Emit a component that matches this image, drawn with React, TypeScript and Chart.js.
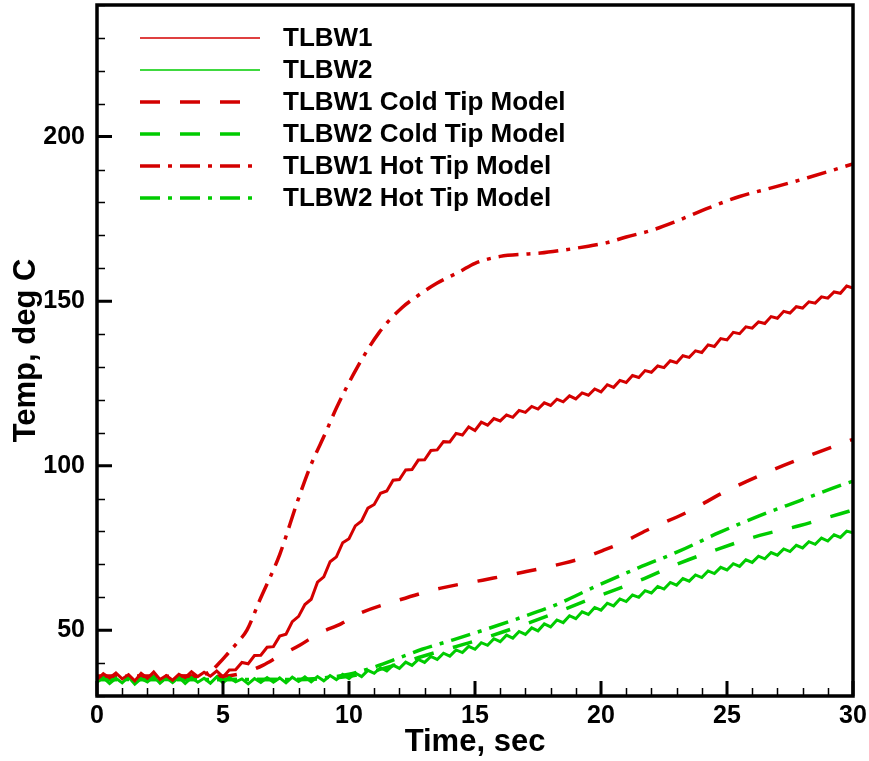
import React, { useEffect, useRef } from 'react';
import { Chart, registerables } from 'chart.js';

Chart.register(...registerables);

// ---------------- DATA ----------------
const sampleStep = 0.25; // seconds between measured samples (t = 0 .. 30)

const tlbw1Values = [
  35.0, 36.8, 35.5, 37.0, 35.2, 36.5, 34.6, 36.9, 35.4, 37.3,
  35.0, 36.2, 34.8, 36.6, 35.6, 37.4, 35.9, 37.2, 36.0, 37.6,
  35.8, 37.9, 38.0, 40.2, 39.8, 42.3, 42.4, 44.8, 45.0, 48.2,
  48.8, 52.6, 54.2, 57.8, 59.4, 64.6, 66.2, 70.8, 72.3, 76.6,
  77.8, 81.7, 83.2, 87.1, 88.2, 91.6, 92.3, 95.6, 95.8, 98.7,
  98.8, 101.7, 101.8, 104.6, 104.8, 107.3, 107.2, 109.8, 109.3, 111.8,
  110.7, 113.2, 112.3, 114.3, 113.6, 115.4, 114.7, 116.8, 116.2, 118.0,
  117.2, 119.1, 118.3, 120.2, 119.4, 121.2, 120.3, 122.1, 121.4, 123.3,
  122.4, 124.6, 123.8, 125.9, 125.3, 127.4, 126.8, 128.9, 128.4, 130.3,
  129.8, 131.9, 131.3, 133.4, 132.9, 134.9, 134.4, 136.7, 136.2, 138.6,
  138.2, 140.5, 140.1, 142.2, 141.8, 143.7, 143.2, 145.3, 144.8, 146.9,
  146.4, 148.3, 147.9, 149.8, 149.4, 151.3, 150.9, 152.8, 152.4, 154.6,
  154.0,
];

const tlbw2Values = [
  34.2, 35.6, 33.8, 35.4, 34.0, 35.8, 33.6, 35.3, 34.3, 35.9,
  33.9, 35.5, 34.1, 35.7, 33.8, 35.6, 34.2, 35.4, 33.9, 35.8,
  34.0, 35.6, 34.3, 35.2, 33.7, 35.3, 34.1, 35.6, 34.2, 35.5,
  34.0, 35.7, 34.4, 35.8, 34.3, 35.9, 34.6, 36.2, 35.0, 36.6,
  35.3, 37.0, 35.9, 37.8, 36.9, 38.6, 37.6, 39.4, 38.4, 40.3,
  39.3, 41.1, 40.2, 42.0, 41.1, 43.0, 42.1, 44.0, 43.2, 45.1,
  44.2, 46.2, 45.4, 47.4, 46.5, 48.5, 47.6, 49.6, 48.7, 50.7,
  49.8, 51.9, 51.0, 53.1, 52.3, 54.4, 53.5, 55.6, 54.8, 56.9,
  56.1, 58.2, 57.4, 59.5, 58.7, 60.7, 60.0, 62.0, 61.3, 63.3,
  62.5, 64.5, 63.7, 65.7, 64.9, 66.8, 66.0, 68.0, 67.2, 69.1,
  68.3, 70.2, 69.4, 71.4, 70.6, 72.5, 71.7, 73.6, 72.8, 74.7,
  73.9, 75.8, 75.0, 76.9, 76.1, 78.0, 77.1, 79.0, 78.2, 80.1,
  79.6,
];

const coldTip1Time = [0, 5, 6, 6.6, 7.2, 8.06, 8.8, 9.7, 10.4, 12, 13.6, 15.3, 16.9, 18.5, 19.3, 20.1, 21, 21.8, 23.4, 25, 26.6, 28.3, 30];
const coldTip1Temp = [36, 36, 37.5, 39.4, 42, 45.5, 49, 52, 55, 59.2, 62.7, 65.2, 67.6, 70.3, 72, 74.3, 77.2, 80.3, 85.8, 92.4, 98, 103.2, 108];

const coldTip2Time = [0, 8, 9, 10, 11, 12, 12.9, 14.9, 16.5, 18.1, 19.7, 21.5, 23.1, 24.7, 26.3, 27.9, 29.5, 30];
const coldTip2Temp = [35, 35, 35.3, 36, 37.6, 39.8, 42, 46.5, 50.5, 55, 59.8, 65, 70.3, 74.8, 78.8, 81.8, 85.4, 86.5];

const hotTip1Time = [0, 2, 4, 4.5, 4.85, 5.2, 5.6, 5.95, 6.45, 7.25, 7.95, 8.45, 9.1, 9.5, 10.3, 11.2, 12.1, 12.7, 13.5, 14.4, 15, 16, 17, 17.6, 18.5, 19.5, 20.2, 21, 22, 22.9, 24, 25.5, 26.8, 28.2, 30];
const hotTip1Temp = [36, 36, 36.2, 37.5, 40, 43, 46.5, 50, 59, 73, 89, 99.5, 110.5, 117.5, 129.5, 140.5, 148, 151.5, 155.5, 159, 161.5, 163.6, 164.3, 164.6, 165.5, 166.7, 167.7, 169.5, 171.5, 174, 177.5, 181.8, 184.5, 187.5, 191.7];

const hotTip2Time = [0, 8, 9, 10, 11, 12, 12.9, 14.1, 16.5, 18.3, 19.7, 21.5, 23.1, 24.7, 26.3, 27.9, 29.5, 30];
const hotTip2Temp = [35, 35, 35.5, 36.6, 38.8, 41.6, 44.2, 47, 53, 58, 63, 69, 74, 79.7, 84.8, 89.4, 94, 95.3];

const seriesNames = [
  'TLBW1',
  'TLBW2',
  'TLBW1 Cold Tip Model',
  'TLBW2 Cold Tip Model',
  'TLBW1 Hot Tip Model',
  'TLBW2 Hot Tip Model',
];

const xTickValues = [0, 5, 10, 15, 20, 25, 30];
const yTickValues = [50, 100, 150, 200];
const xRange = [0, 30];
const yRange = [30, 240];
const xMinorStep = 1;
const yMinorStep = 10;

// ---------------- STYLE ----------------
const RED = 'rgb(212,0,0)';
const GREEN = 'rgb(0,204,0)';
const FONT = '"Liberation Sans", Arial, Helvetica, sans-serif';
const DASH = [20, 20];
const DASHDOT = [20, 8, 4, 8];

const toPoints = (xs: number[], ys: number[]) => ys.map((y, i) => ({ x: xs[i], y }));
const measuredPoints = (ys: number[]) => ys.map((y, i) => ({ x: i * sampleStep, y }));

const legendStyles = [
  { color: RED, dash: [] as number[], width: 1.5 },
  { color: GREEN, dash: [] as number[], width: 1.5 },
  { color: RED, dash: DASH, width: 3.5 },
  { color: GREEN, dash: DASH, width: 3.5 },
  { color: RED, dash: DASHDOT, width: 3.5 },
  { color: GREEN, dash: DASHDOT, width: 3.5 },
];

const decorPlugin = {
  id: 'decor',
  afterDraw(chart: any) {
    const { ctx, chartArea: a, scales } = chart;
    const x = scales.x;
    const y = scales.y;
    ctx.save();
    ctx.strokeStyle = '#000';
    ctx.lineCap = 'butt';
    ctx.setLineDash([]);

    // minor ticks
    ctx.lineWidth = 1.5;
    ctx.beginPath();
    for (let v = xRange[0]; v <= xRange[1]; v += xMinorStep) {
      if (xTickValues.includes(v)) continue;
      const px = Math.round(x.getPixelForValue(v)) + 0.5;
      ctx.moveTo(px, a.bottom);
      ctx.lineTo(px, a.bottom - 8);
    }
    for (let v = yRange[0]; v <= yRange[1]; v += yMinorStep) {
      if (yTickValues.includes(v)) continue;
      const py = Math.round(y.getPixelForValue(v)) + 0.5;
      ctx.moveTo(a.left, py);
      ctx.lineTo(a.left + 8, py);
    }
    ctx.stroke();

    // major ticks
    ctx.lineWidth = 3;
    ctx.beginPath();
    for (const v of xTickValues) {
      const px = x.getPixelForValue(v);
      ctx.moveTo(px, a.bottom);
      ctx.lineTo(px, a.bottom - 15);
    }
    for (const v of yTickValues) {
      const py = y.getPixelForValue(v);
      ctx.moveTo(a.left, py);
      ctx.lineTo(a.left + 15, py);
    }
    ctx.stroke();

    // frame
    ctx.lineWidth = 3.5;
    ctx.strokeRect(a.left, a.top, a.right - a.left, a.bottom - a.top);

    // legend
    const lx0 = 140;
    const lx1 = 260;
    const tx = 283;
    const ly0 = 38;
    const dy = 32;
    ctx.font = `bold 26px ${FONT}`;
    ctx.fillStyle = '#000';
    ctx.textBaseline = 'middle';
    ctx.textAlign = 'left';
    seriesNames.forEach((name, i) => {
      const st = legendStyles[i];
      const yy = ly0 + i * dy;
      ctx.strokeStyle = st.color;
      ctx.lineWidth = st.width;
      ctx.setLineDash(st.dash);
      ctx.beginPath();
      ctx.moveTo(lx0, yy);
      ctx.lineTo(lx1, yy);
      ctx.stroke();
      ctx.setLineDash([]);
      ctx.fillText(name, tx, yy + 1);
    });
    ctx.restore();
  },
};

export default function App() {
  const canvasRef = useRef<HTMLCanvasElement | null>(null);

  useEffect(() => {
    const canvas = canvasRef.current;
    if (!canvas) return;
    const tickFont = { family: FONT, size: 25, weight: 'bold' as const };
    const titleFont = { family: FONT, size: 31, weight: 'bold' as const };

    const chart = new Chart(canvas, {
      type: 'line',
      data: {
        datasets: [
          {
            label: seriesNames[0],
            data: measuredPoints(tlbw1Values),
            borderColor: RED,
            borderWidth: 3,
            pointRadius: 0,
            tension: 0,
          },
          {
            label: seriesNames[1],
            data: measuredPoints(tlbw2Values),
            borderColor: GREEN,
            borderWidth: 3,
            pointRadius: 0,
            tension: 0,
          },
          {
            label: seriesNames[2],
            data: toPoints(coldTip1Time, coldTip1Temp),
            borderColor: RED,
            borderWidth: 3.5,
            borderDash: DASH,
            pointRadius: 0,
            cubicInterpolationMode: 'monotone',
          },
          {
            label: seriesNames[3],
            data: toPoints(coldTip2Time, coldTip2Temp),
            borderColor: GREEN,
            borderWidth: 3.5,
            borderDash: DASH,
            pointRadius: 0,
            cubicInterpolationMode: 'monotone',
          },
          {
            label: seriesNames[4],
            data: toPoints(hotTip1Time, hotTip1Temp),
            borderColor: RED,
            borderWidth: 3.5,
            borderDash: DASHDOT,
            pointRadius: 0,
            cubicInterpolationMode: 'monotone',
          },
          {
            label: seriesNames[5],
            data: toPoints(hotTip2Time, hotTip2Temp),
            borderColor: GREEN,
            borderWidth: 3.5,
            borderDash: DASHDOT,
            pointRadius: 0,
            cubicInterpolationMode: 'monotone',
          },
        ],
      },
      options: {
        responsive: false,
        animation: false,
        events: [],
        layout: { padding: { top: 5, right: 16, left: 0, bottom: 0 } },
        plugins: {
          legend: { display: false },
          tooltip: { enabled: false },
        },
        scales: {
          x: {
            type: 'linear',
            min: xRange[0],
            max: xRange[1],
            grid: { display: false, drawTicks: false },
            border: { display: false },
            ticks: {
              stepSize: 5,
              autoSkip: false,
              maxRotation: 0,
              color: '#000',
              font: tickFont,
              padding: 5,
            },
            afterBuildTicks: (scale: any) => {
              scale.ticks = xTickValues.map((v) => ({ value: v }));
            },
            afterFit: (scale: any) => {
              scale.height = 65;
              scale.paddingLeft = 0;
              scale.paddingRight = 0;
            },
            title: {
              display: true,
              text: 'Time, sec',
              color: '#000',
              font: titleFont,
              padding: { top: 0, bottom: 0 },
            },
          },
          y: {
            type: 'linear',
            min: yRange[0],
            max: yRange[1],
            grid: { display: false, drawTicks: false },
            border: { display: false },
            ticks: {
              autoSkip: false,
              color: '#000',
              font: tickFont,
              padding: 12,
            },
            afterBuildTicks: (scale: any) => {
              scale.ticks = yTickValues.map((v) => ({ value: v }));
            },
            afterFit: (scale: any) => {
              scale.width = 97;
              scale.paddingTop = 0;
              scale.paddingBottom = 0;
            },
            title: {
              display: true,
              text: 'Temp, deg C',
              color: '#000',
              font: titleFont,
              padding: { top: 8, bottom: 0 },
            },
          },
        },
      },
      plugins: [decorPlugin],
    });

    return () => chart.destroy();
  }, []);

  return (
    <div style={{ position: 'absolute', left: 0, top: 0, width: 869, height: 761, background: '#fff' }}>
      <canvas ref={canvasRef} width={869} height={761} style={{ display: 'block' }} />
    </div>
  );
}
